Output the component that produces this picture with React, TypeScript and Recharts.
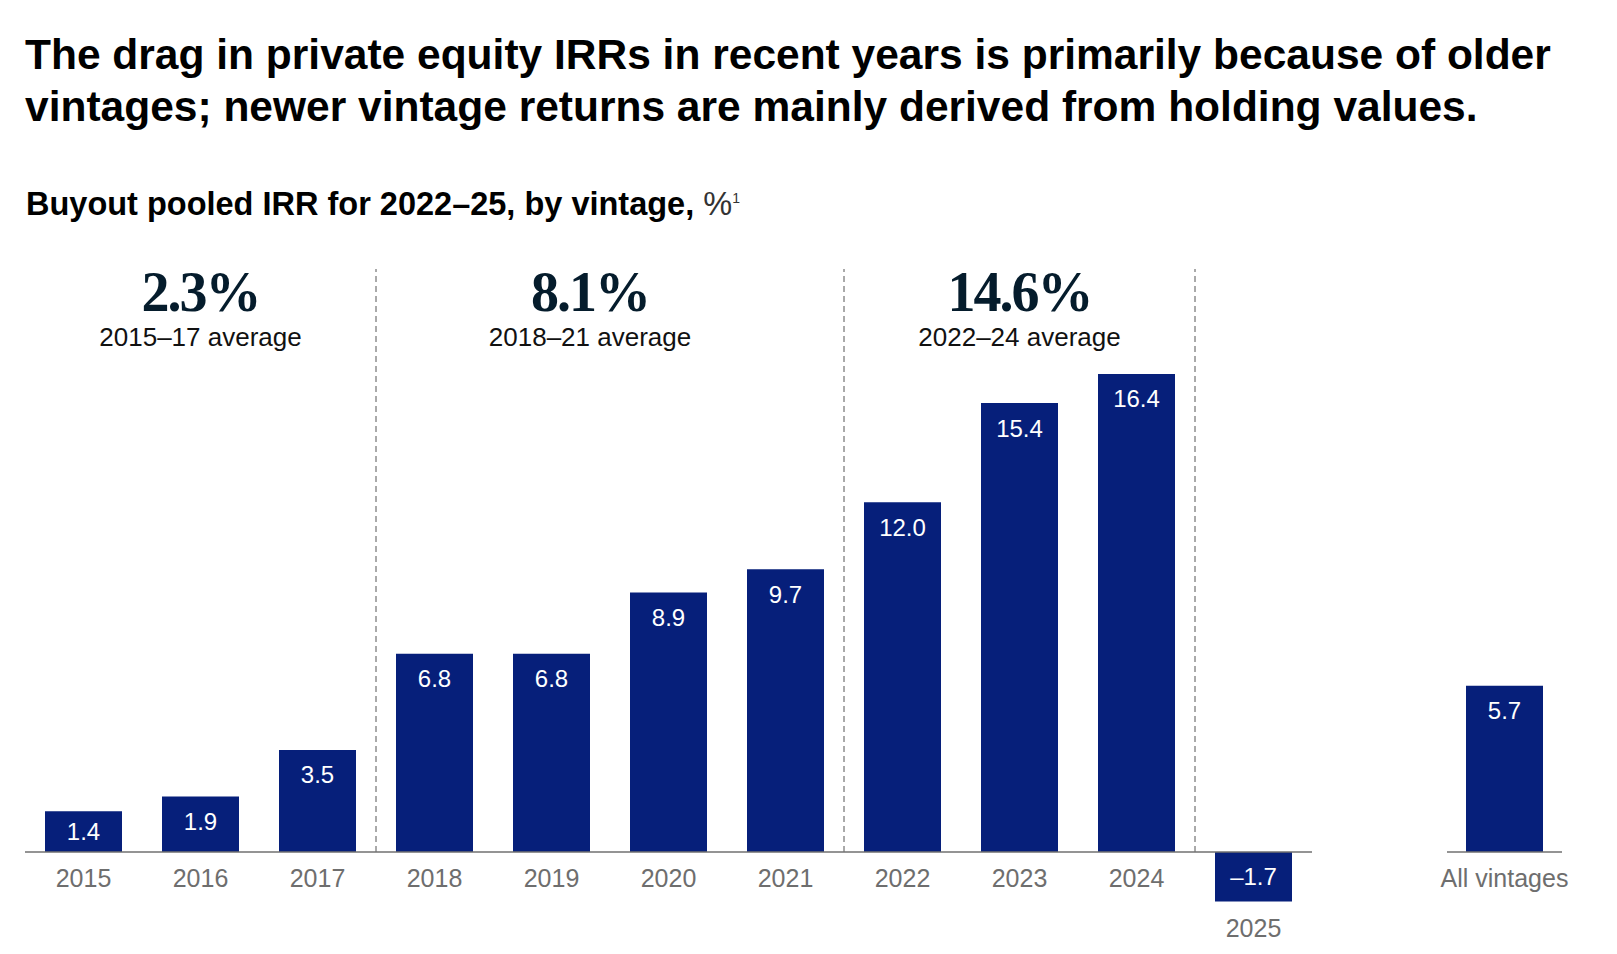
import React from 'react';
import { BarChart, Bar, XAxis, YAxis, ReferenceLine, ReferenceArea, LabelList } from 'recharts';

// Buyout pooled IRR (%) by vintage year, 2022–25 measurement window
const vintages = ['2015', '2016', '2017', '2018', '2019', '2020', '2021', '2022', '2023', '2024', '2025'];
const pooledIrr = [1.4, 1.9, 3.5, 6.8, 6.8, 8.9, 9.7, 12.0, 15.4, 16.4, -1.7];

const allVintagesLabel = ['All vintages'];
const allVintagesIrr = [5.7];

// Vintage groups and their average IRR
const periodStarts = ['2015', '2018', '2022'];
const periodEnds = ['2017', '2021', '2024'];
const periodAverages = [2.3, 8.1, 14.6];
const periodLabels = ['2015–17 average', '2018–21 average', '2022–24 average'];

// Vintages that open a new group (a dashed divider sits on their left edge)
const dividerVintages = ['2018', '2022', '2025'];

const Y_DOMAIN: [number, number] = [-2, 20];
const BAR_COLOR = '#061f7a';
const SANS = '"Liberation Sans", Arial, sans-serif';
const periodShift = [0, -20, 0];

const mainRows = vintages.map((vintage, i) => ({ vintage, irr: pooledIrr[i] }));
const totalRows = allVintagesLabel.map((vintage, i) => ({ vintage, irr: allVintagesIrr[i] }));

const formatValue = (v: number) => (v < 0 ? `–${Math.abs(v).toFixed(1)}` : v.toFixed(1));

const rectOf = (props: any) => {
  const vb = props.viewBox ?? props;
  const top = Math.min(vb.y, vb.y + vb.height);
  const h = Math.abs(vb.height);
  return { x: vb.x, w: vb.width, top, bottom: top + h, h };
};

const renderValue = (props: any) => {
  const { x, w, top, h } = rectOf(props);
  return (
    <text
      x={x + w / 2}
      y={top + Math.min(25, h / 2)}
      textAnchor="middle"
      dominantBaseline="central"
      fill="#ffffff"
      fontFamily={SANS}
      fontSize={24}
    >
      {formatValue(Number(props.value))}
    </text>
  );
};

// Category name under each bar; negative bars push the name below themselves
const renderVintage = (props: any) => {
  const { x, w, bottom } = rectOf(props);
  return (
    <text
      x={x + w / 2}
      y={bottom + 26}
      textAnchor="middle"
      dominantBaseline="central"
      fill="#6e6e6e"
      fontFamily={SANS}
      fontSize={25}
    >
      {props.value}
    </text>
  );
};

const PeriodLabel = (props: any) => {
  const { viewBox, index } = props;
  const cx = viewBox.x + viewBox.width / 2 + periodShift[index];
  return (
    <g>
      <text
        x={cx}
        y={viewBox.y + 42}
        textAnchor="middle"
        fill="#051c2c"
        fontFamily='"Liberation Serif", serif'
        fontWeight={700}
        fontSize={56}
        letterSpacing={-2}
      >
        {periodAverages[index].toFixed(1)}%
      </text>
      <text x={cx} y={viewBox.y + 77} textAnchor="middle" fill="#111" fontFamily={SANS} fontSize={26}>
        {periodLabels[index]}
      </text>
    </g>
  );
};

const App: React.FC = () => {
  return (
    <div style={{ position: 'absolute', left: 0, top: 0, width: 1617, height: 954, background: '#fff' }}>
      <div
        style={{
          position: 'absolute',
          left: 25,
          top: 29,
          fontFamily: SANS,
          fontWeight: 700,
          fontSize: 42.5,
          lineHeight: '52px',
          color: '#000',
          whiteSpace: 'nowrap',
        }}
      >
        The drag in private equity IRRs in recent years is primarily because of older
        <br />
        vintages; newer vintage returns are mainly derived from holding values.
      </div>
      <div
        style={{
          position: 'absolute',
          left: 26,
          top: 178,
          fontFamily: SANS,
          fontWeight: 700,
          fontSize: 32.5,
          lineHeight: '40px',
          color: '#000',
          whiteSpace: 'nowrap',
        }}
      >
        Buyout pooled IRR for 2022–25, by vintage,{' '}
        <span style={{ fontWeight: 400, color: '#333' }}>
          %<sup style={{ fontSize: 14 }}>1</sup>
        </span>
      </div>

      <div style={{ position: 'absolute', left: 0, top: 0 }}>
        <BarChart width={1330} height={954} data={mainRows} margin={{ top: 269, right: 18, bottom: 43.7, left: 25 }}>
          <XAxis dataKey="vintage" hide />
          <YAxis hide domain={Y_DOMAIN} />
          {periodStarts.map((start, i) => (
            <ReferenceArea
              key={start}
              x1={start}
              x2={periodEnds[i]}
              fill="none"
              fillOpacity={0}
              stroke="none"
              label={<PeriodLabel index={i} />}
            />
          ))}
          {dividerVintages.map((v) => (
            <ReferenceLine
              key={v}
              segment={[
                { x: v, y: 0 },
                { x: v, y: Y_DOMAIN[1] },
              ]}
              position="start"
              stroke="#555"
              strokeWidth={1}
              strokeDasharray="6 4"
            />
          ))}
          <Bar dataKey="irr" fill={BAR_COLOR} barSize={77} isAnimationActive={false}>
            <LabelList dataKey="irr" content={renderValue} />
            <LabelList dataKey="vintage" content={renderVintage} />
          </Bar>
          <ReferenceLine y={0} stroke="#707070" strokeWidth={1.5} />
        </BarChart>
      </div>

      <div style={{ position: 'absolute', left: 1430, top: 0 }}>
        <BarChart width={150} height={954} data={totalRows} margin={{ top: 269, right: 18, bottom: 43.7, left: 17 }}>
          <XAxis dataKey="vintage" hide />
          <YAxis hide domain={Y_DOMAIN} />
          <Bar dataKey="irr" fill={BAR_COLOR} barSize={77} isAnimationActive={false}>
            <LabelList dataKey="irr" content={renderValue} />
            <LabelList dataKey="vintage" content={renderVintage} />
          </Bar>
          <ReferenceLine y={0} stroke="#707070" strokeWidth={1.5} />
        </BarChart>
      </div>
    </div>
  );
};

export default App;
